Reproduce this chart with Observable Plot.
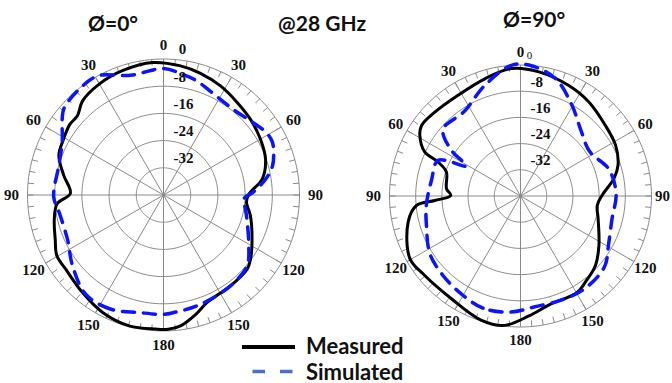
<!DOCTYPE html>
<html><head><meta charset="utf-8">
<script src="https://cdn.jsdelivr.net/npm/d3@7"></script>
<script src="https://cdn.jsdelivr.net/npm/@observablehq/plot@0.6"></script>
<style>
html,body{margin:0;padding:0;background:#fff;}
#wrap{position:relative;width:672px;height:383px;overflow:hidden;background:#fff;}
#overlay{position:absolute;left:0;top:0;pointer-events:none;}
</style></head><body><div id="wrap"></div>
<script>
// ---- scale / tick definitions ----
const DB_MIN = -40;
const dbTicks = [0, -8, -16, -24, -32];
const angleTicks = [0, 30, 60, 90, 120, 150, 180, -150, -120, -90, -60, -30];
const angleTickLabels = ["0", "30", "60", "90", "120", "150", "180", "150", "120", "90", "60", "30"];

// ---- Ø=0° : measured ----
const phi0MeasAngle = [-176.7,-165.3,-152.6,-140.3,-127.2,-119.7,-112.2,-102.5,-94.7,-89,-78.9,-69.3,-60.6,-53,-47.4,-40.7,-30.1,-18.3,-4.7,7.5,16.9,27.6,38.5,49,60,70.7,80.9,89.5,95,103.5,116.5,126.4,131.6,143.6,151,157.9,165,172.6,178];
const phi0MeasDb    = [-0.5,-0.2,-1.1,-2.7,-3.9,-3.9,-5.6,-7.1,-8.6,-12.6,-10.1,-7.1,-6.3,-5.5,-5.6,-3.5,-2.3,-1.5,-0.9,-1.7,-2.6,-3.8,-5.2,-6.1,-7.1,-8.2,-10.6,-14.9,-15.5,-13.7,-10.9,-8.2,-7.1,-6.8,-6.6,-5.9,-3.6,-1.2,-0.5];
// ---- Ø=0° : simulated ----
const phi0SimAngle = [-168.3,-155,-142,-127.9,-114.7,-99.5,-91,-74,-62.5,-53,-49,-38.5,-28.9,-15.4,0,9.7,16,28,40,50,59,64,69,75,81,88,93,100,108,120.8,130.2,143.6,162,175,180];
const phi0SimDb    = [-4.7,-3.0,-2.9,-6.1,-8.9,-8.9,-7.7,-8.0,-6.4,-2.7,-1.2,-0.2,0,-3.5,-2.8,-4.2,-5.0,-7.0,-7.5,-6.3,-4.6,-4.4,-5.3,-6.8,-9.5,-13.5,-16.4,-15.5,-14.1,-10.8,-7.8,-6.8,-6.0,-5.3,-4.9];

// ---- Ø=90° : measured ----
const phi90MeasAngle = [-173,-162.6,-146.1,-129.7,-119.5,-103,-95.2,-93,-89.5,-84.4,-72,-67.6,-65.3,-58.9,-54.5,-45.6,-31.8,-16.9,-4,8.4,23.6,36,50.3,62,72.6,79.5,89.6,97,106.3,122.2,132.8,142.9,149.8,164.7,176];
const phi90MeasDb    = [-0.2,-0.2,-2.2,-2.0,-1.2,-4.8,-8.1,-13.8,-18.7,-17.3,-16.2,-12.8,-7.8,-4.1,-2.9,-3.4,-3.8,-2.6,-1.0,-1.7,-3.2,-4.5,-6.3,-7.1,-8.8,-11,-15.1,-16.4,-15.3,-11.7,-8.8,-7.1,-5.8,-5.7,-3.3];
// ---- Ø=90° : simulated ----
const phi90SimAngle = [-174.7,-161.5,-149.4,-135.7,-122.5,-107.4,-95.7,-80,-66.6,-61,-56.5,-49.3,-33.7,-17.9,-4,4,16.6,29.7,41.7,57.1,73.2,88.6,104,118.4,129.9,143.8,157.4,172.6];
const phi90SimDb    = [-4.4,-3.9,-5.0,-6.1,-7.2,-9.9,-11.1,-12.4,-12.6,-21.1,-14.7,-8.8,-9.0,-4.5,0,0,-2.6,-8.2,-12.5,-14.9,-11.8,-10.8,-11.2,-9.4,-6.5,-5.6,-5.8,-5.9];

const titles = ["Ø=0°", "@28 GHz", "Ø=90°"];
const seriesNames = ["Measured", "Simulated"];

const deg = Math.PI / 180;
const rad = db => (db - DB_MIN) / (0 - DB_MIN);
const PX = (a, r) => r * Math.sin(a * deg);
const PY = (a, r) => r * Math.cos(a * deg);
const rows = (angles, dbs) => angles.map((a, i) => ({a, db: dbs[i]}));

function polarChart({R, cx, cy, W, H, left, meas, sim, labelGap, gap90L, gap90R, zeroSmall}) {
  const ringData = dbTicks.flatMap(db => d3.range(0, 360, 2).map(a => ({db, a})));
  const spokes = d3.range(0, 360, 30);
  const minor = d3.range(0, 360, 5);
  const tickLen = 6 / R;
  const angleLab = angleTicks.map((a, i) => ({a, t: angleTickLabels[i]}));
  const lr = d => 1 + (d.a === 90 ? gap90R : d.a === -90 ? gap90L : labelGap) / R;
  const grid = "#8a8a8a";
  const font = {fontFamily: "'Liberation Serif', 'Times New Roman', serif", fontWeight: "bold", fontSize: 15, fill: "#111"};
  const svg = Plot.plot({
    width: W, height: H, margin: 0,
    x: {domain: [-cx / R, (W - cx) / R], range: [0, W], axis: null},
    y: {domain: [-(H - cy) / R, cy / R], range: [H, 0], axis: null},
    style: {position: "absolute", left: left + "px", top: "0px", background: "transparent", overflow: "visible"},
    marks: [
      Plot.line(ringData, {x: d => PX(d.a, rad(d.db)), y: d => PY(d.a, rad(d.db)), z: "db", curve: "linear-closed", stroke: grid, strokeWidth: 1}),
      Plot.link(spokes, {x1: () => 0, y1: () => 0, x2: a => PX(a, 1), y2: a => PY(a, 1), stroke: grid, strokeWidth: 1}),
      Plot.link(minor, {x1: a => PX(a, 1 - tickLen), y1: a => PY(a, 1 - tickLen), x2: a => PX(a, 1), y2: a => PY(a, 1), stroke: grid, strokeWidth: 1}),
      Plot.line(rows(meas[0], meas[1]), {x: d => PX(d.a, rad(d.db)), y: d => PY(d.a, rad(d.db)), curve: "catmull-rom-closed", stroke: "#000", strokeWidth: 3}),
      Plot.line(rows(sim[0], sim[1]), {x: d => PX(d.a, rad(d.db)), y: d => PY(d.a, rad(d.db)), curve: "catmull-rom-closed", stroke: "#0a14ff", strokeWidth: 3.5, strokeDasharray: "12,9"}),
      Plot.text(angleLab, {x: d => PX(d.a, lr(d)), y: d => PY(d.a, lr(d)), text: "t", textAnchor: "middle", lineAnchor: "middle", ...font}),
      Plot.text(dbTicks.filter(d => d !== 0), {x: () => 0, y: d => rad(d), text: d => String(d), dx: 10, dy: -9.5, textAnchor: "start", lineAnchor: "middle", ...font}),
      Plot.text([0], {x: () => 0, y: d => rad(d), text: d => String(d), dx: zeroSmall ? 9 : 19, dy: -10, textAnchor: "middle", lineAnchor: "middle", ...font,
        fontSize: zeroSmall ? 11 : 15, fontWeight: zeroSmall ? "normal" : "bold"})
    ]
  });
  return svg;
}

const wrap = document.getElementById("wrap");
wrap.appendChild(polarChart({R: 136, cx: 163, cy: 194.5, W: 336, H: 383, left: 0,
  meas: [phi0MeasAngle, phi0MeasDb], sim: [phi0SimAngle, phi0SimDb], labelGap: 14, gap90L: 16, gap90R: 16, zeroSmall: false}));
wrap.appendChild(polarChart({R: 131, cx: 184, cy: 195.5, W: 336, H: 383, left: 336,
  meas: [phi90MeasAngle, phi90MeasDb], sim: [phi90SimAngle, phi90SimDb], labelGap: 13, gap90L: 16, gap90R: 11, zeroSmall: true}));

// overlay: titles and legend
const ns = "http://www.w3.org/2000/svg";
const ov = document.createElementNS(ns, "svg");
ov.setAttribute("id", "overlay"); ov.setAttribute("width", 672); ov.setAttribute("height", 383);
function el(tag, attrs, text) {
  const e = document.createElementNS(ns, tag);
  for (const k in attrs) e.setAttribute(k, attrs[k]);
  if (text != null) e.textContent = text;
  ov.appendChild(e); return e;
}
const tfont = {"font-family": "Lato, 'Open Sans', sans-serif", "font-weight": "bold", "font-size": 21, fill: "#111"};
const lfont = {...tfont, "font-size": 22};
el("text", {x: 88, y: 31, ...tfont}, titles[0]);
el("text", {x: 278, y: 31, ...tfont}, titles[1]);
el("text", {x: 503, y: 27, ...tfont}, titles[2]);
el("line", {x1: 242, x2: 295, y1: 347, y2: 347, stroke: "#000", "stroke-width": 4});
el("line", {x1: 252.5, x2: 295, y1: 371.5, y2: 371.5, stroke: "#4472c4", "stroke-width": 3.5, "stroke-dasharray": "12.5,15"});
el("text", {x: 306, y: 353.5, ...lfont}, seriesNames[0]);
el("text", {x: 306, y: 379.5, ...lfont}, seriesNames[1]);
wrap.appendChild(ov);
</script></body></html>
